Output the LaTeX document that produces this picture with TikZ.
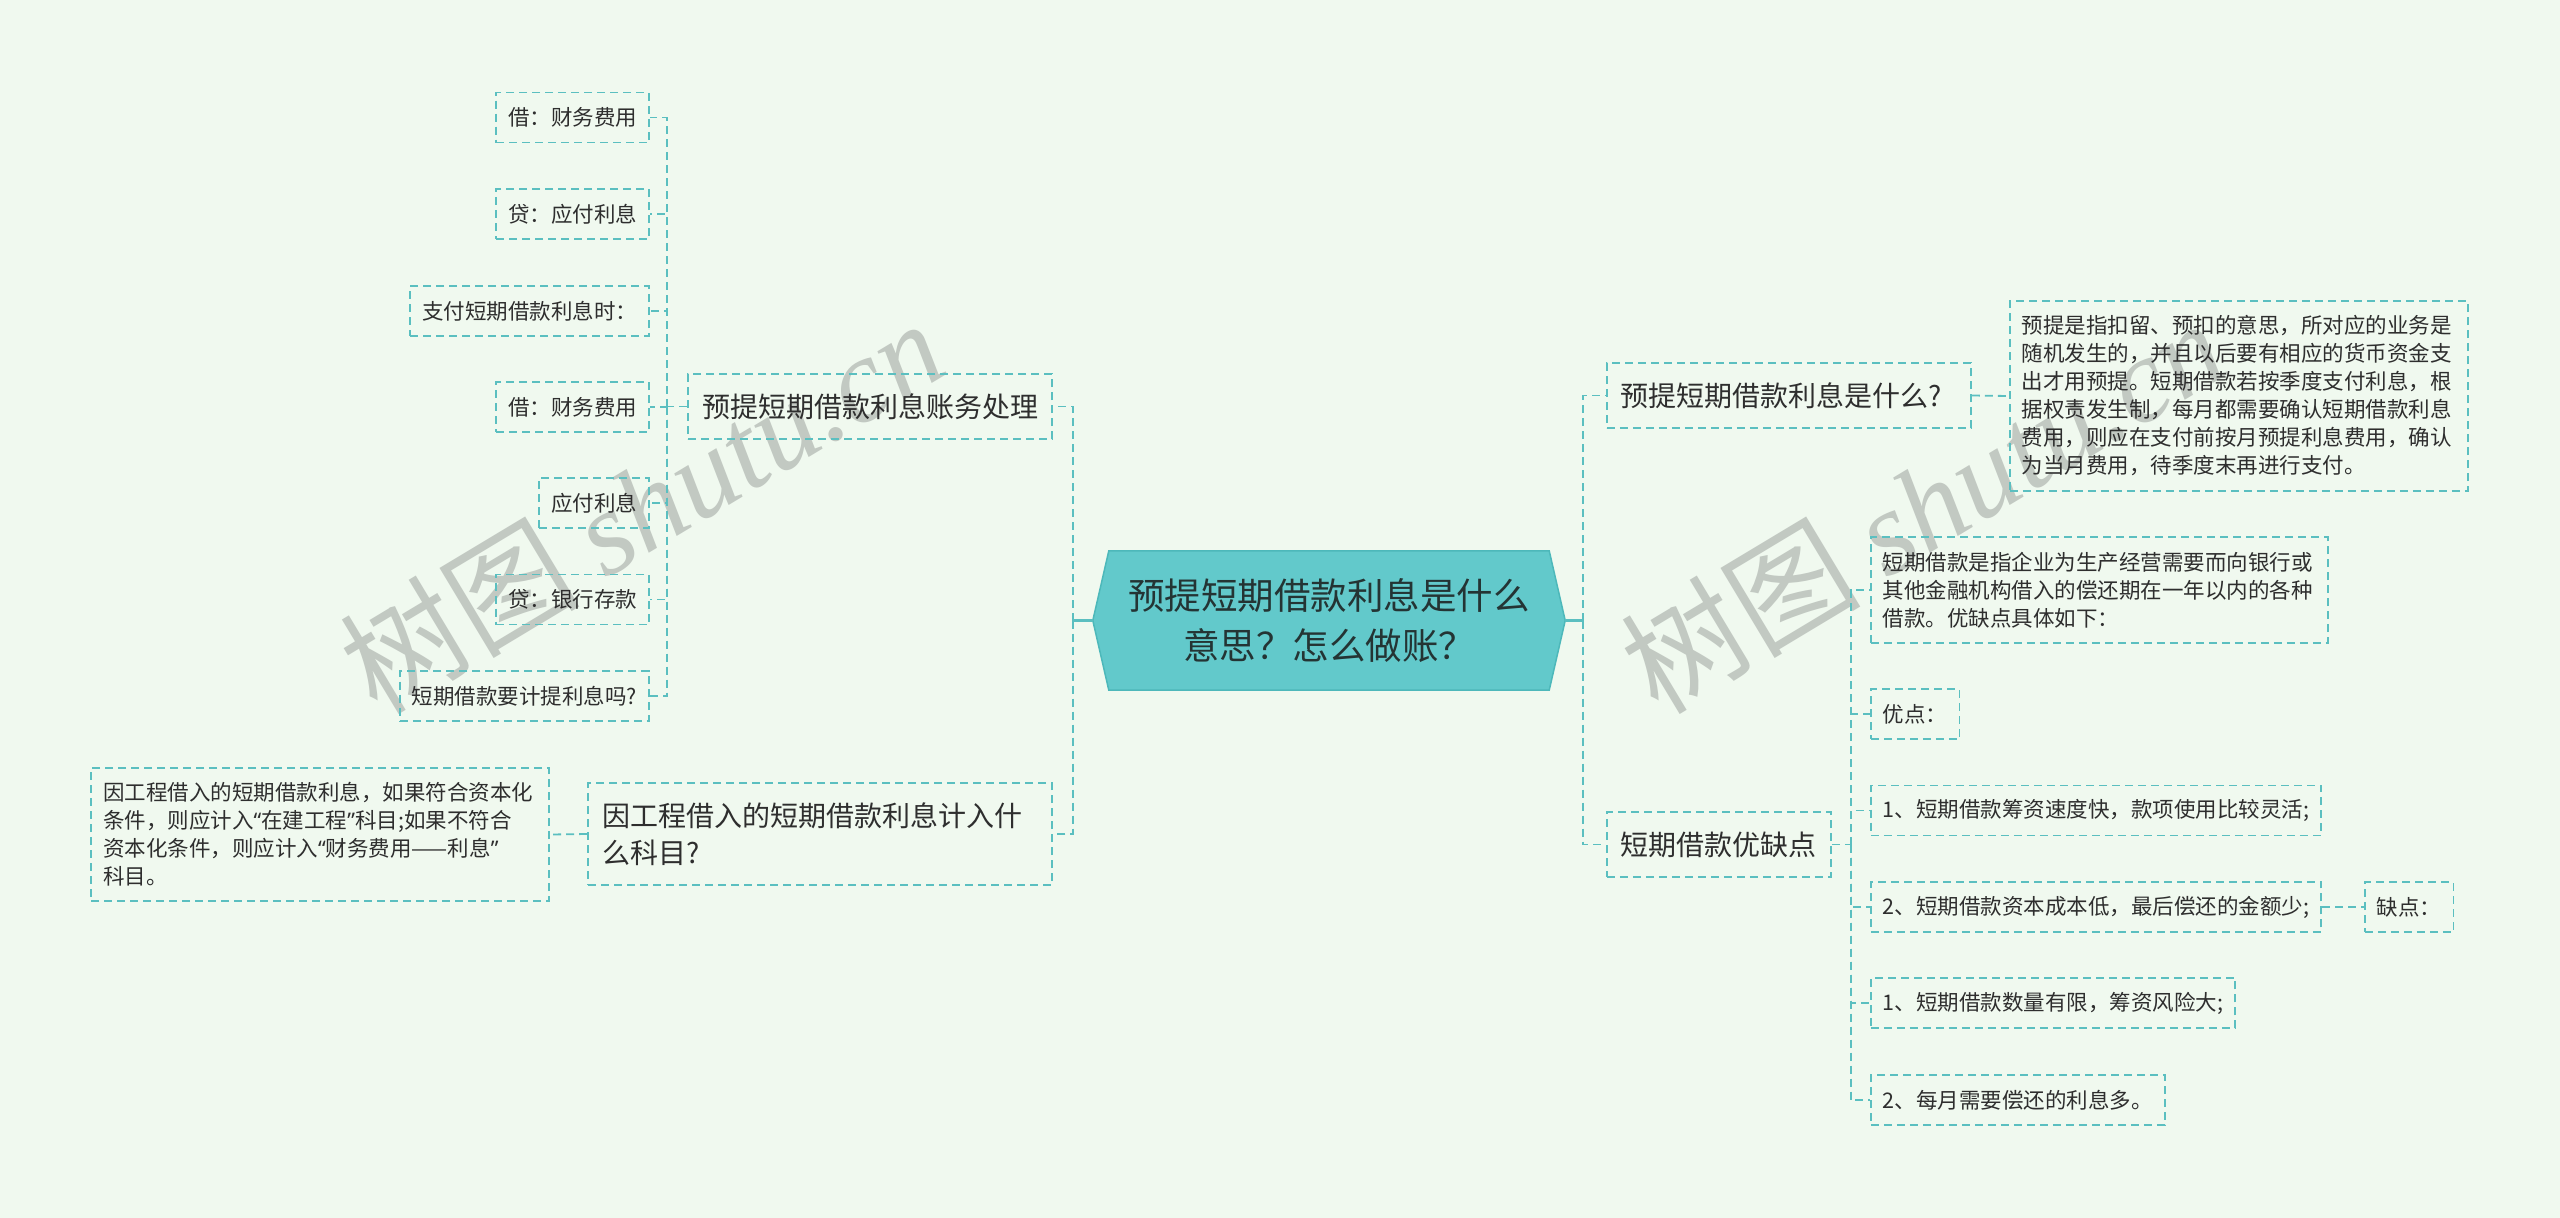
\documentclass[tikz,border=0pt]{standalone}
\usepackage{fontspec}
\setmainfont{Noto Sans CJK SC}
\newfontfamily\latinq{Noto Sans}
\newfontfamily\wmserif{Liberation Serif}
\usetikzlibrary{calc,backgrounds}
\definecolor{bg}{HTML}{F0F9EF}
\definecolor{ln}{HTML}{5BBFC0}
\definecolor{hexfill}{HTML}{62C9CB}
\definecolor{hexline}{HTML}{4DB8BA}
\definecolor{txt}{HTML}{2E2E2E}
\definecolor{ctxt}{HTML}{243434}
\definecolor{wm}{HTML}{C2C9C2}
\newcommand{\myqL}{{\latinq “}}
\newcommand{\myqR}{{\latinq ”}}
\begin{document}
\begin{tikzpicture}[x=1pt,y=-1pt,
  box/.style={draw=ln, line width=1.8pt, dash pattern=on 8pt off 5pt, inner xsep=12pt, inner ysep=4pt, text=txt, align=left},
  leaf/.style={box, font=\fontsize{21.5}{28}\selectfont, minimum height=50pt},
  branch/.style={box, font=\fontsize{28}{37}\selectfont, minimum height=65pt, inner xsep=14pt},
  conn/.style={draw=ln, line width=1.8pt, dash pattern=on 8pt off 5pt},
  solidconn/.style={draw=ln, line width=2.2pt},
  wmark/.style={text=wm, font=\fontsize{120}{120}\selectfont, rotate=31, anchor=base west, inner sep=0pt}
]
\useasboundingbox (0,0) rectangle (2560,1218);
\begin{scope}[on background layer]
  \fill[bg] (0,0) rectangle (2560,1218);
  \node[wmark] (W1) at (377,717) {树图 {\wmserif\itshape shutu.cn}};
  \node[wmark] (W2) at (1658,717) {树图 {\wmserif\itshape shutu.cn}};
\end{scope}

% centre
\node[font=\fontsize{36.5}{50}\selectfont, text=ctxt, align=center, minimum width=440pt, minimum height=139pt, inner sep=0pt] (C) at (1329,620.5) {预提短期借款利息是什么\\意思？怎么做账？};
\coordinate (cL) at ($(C.west)+(-16,0)$);
\coordinate (cR) at ($(C.east)+(16,0)$);
\begin{scope}[on background layer]
  \filldraw[fill=hexfill, draw=hexline, line width=1.5pt] (C.north west) -- (C.north east) -- (cR) -- (C.south east) -- (C.south west) -- (cL) -- cycle;
\end{scope}

% left branches
\node[branch, anchor=east] (B1) at (1053,406.5) {预提短期借款利息账务处理};
\node[branch, anchor=east, text width=436pt, minimum height=102pt] (B2) at (1053,834) {因工程借入的短期借款利息计入什\\么科目?};

\node[leaf, anchor=east] (L1) at (650,117.5) {借：财务费用};
\node[leaf, anchor=east] (L2) at (650,214) {贷：应付利息};
\node[leaf, anchor=east] (L3) at (650,311) {支付短期借款利息时：};
\node[leaf, anchor=east] (L4) at (650,407) {借：财务费用};
\node[leaf, anchor=east] (L5) at (650,503) {应付利息};
\node[leaf, anchor=east] (L6) at (650,599.5) {贷：银行存款};
\node[leaf, anchor=east] (L7) at (650,696) {短期借款要计提利息吗?};

\node[leaf, anchor=east, text width=434pt, minimum height=133pt] (LB2) at (550,834.5) {因工程借入的短期借款利息，如果符合资本化\\条件，则应计入\myqL 在建工程\myqR 科目;如果不符合\\资本化条件，则应计入\myqL 财务费用——利息\myqR\\科目。};

% right branches
\node[branch, anchor=west, text width=336pt] (R1) at (1606,395.5) {预提短期借款利息是什么?};
\node[leaf, anchor=west, text width=434pt, minimum height=190pt] (RX) at (2009,396) {预提是指扣留、预扣的意思，所对应的业务是\\随机发生的，并且以后要有相应的货币资金支\\出才用预提。短期借款若按季度支付利息，根\\据权责发生制，每月都需要确认短期借款利息\\费用，则应在支付前按月预提利息费用，确认\\为当月费用，待季度末再进行支付。};
\node[branch, anchor=west] (R2) at (1606,844.5) {短期借款优缺点};

\node[leaf, anchor=west, text width=433pt, minimum height=106pt] (K1) at (1870,590) {短期借款是指企业为生产经营需要而向银行或\\其他金融机构借入的偿还期在一年以内的各种\\借款。优缺点具体如下：};
\node[leaf, anchor=west] (K2) at (1870,714) {优点：};
\node[leaf, anchor=west] (K3) at (1870,810.5) {1、短期借款筹资速度快，款项使用比较灵活;};
\node[leaf, anchor=west] (K4) at (1870,907) {2、短期借款资本成本低，最后偿还的金额少;};
\node[leaf, anchor=west] (K4a) at (2364,907) {缺点：};
\node[leaf, anchor=west] (K5) at (1870,1003) {1、短期借款数量有限，筹资风险大;};
\node[leaf, anchor=west] (K6) at (1870,1100) {2、每月需要偿还的利息多。};

% connectors from centre
\draw[solidconn] (cL) -- ++(-20,0) coordinate (tL);
\draw[conn] (tL) |- (B1.east);
\draw[conn] (tL) |- (B2.east);
\draw[solidconn] (cR) -- ++(18,0) coordinate (tR);
\draw[conn] (tR) |- (R1.west);
\draw[conn] (tR) |- (R2.west);

% left branch 1
\draw[conn] (B1.west) -- ++(-20,0) coordinate (t1);
\foreach \n in {L1,L2,L3,L4,L5,L6,L7} \draw[conn] (t1) |- (\n.east);
% left branch 2
\draw[conn] (B2.west) -- (LB2.east);

% right branch 1
\draw[conn] (R1.east) -- (RX.west);
% right branch 2
\draw[conn] (R2.east) -- ++(19,0) coordinate (t2);
\foreach \n in {K1,K2,K3,K4,K5,K6} \draw[conn] (t2) |- (\n.west);
\draw[conn] (K4.east) -- (K4a.west);
\end{tikzpicture}
\end{document}
